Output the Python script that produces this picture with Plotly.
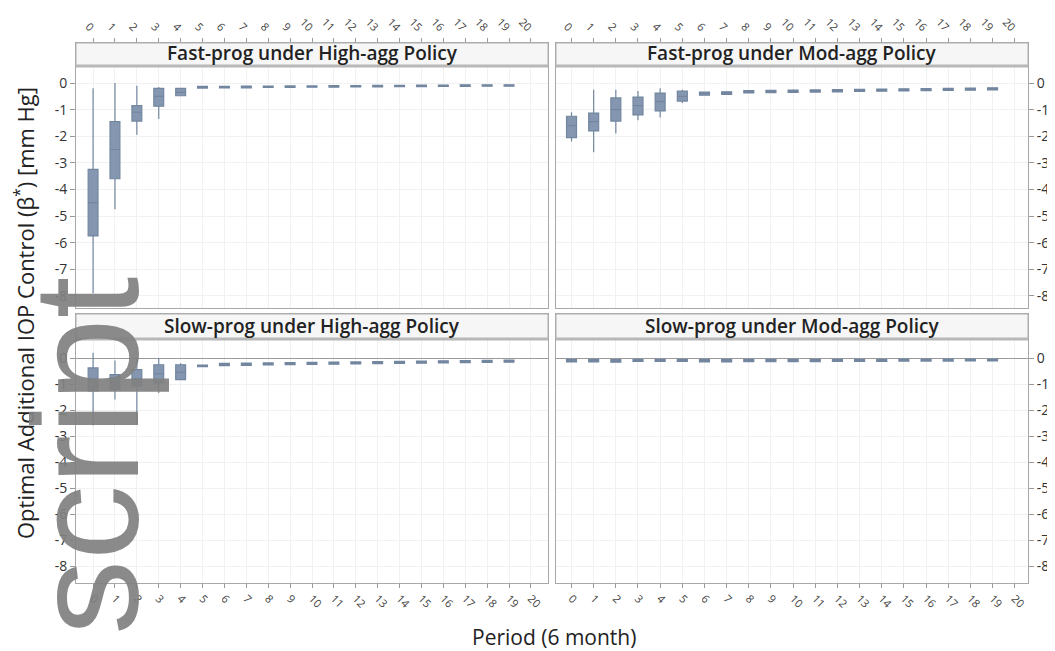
import plotly.graph_objects as go

W, H = 1055, 651
periods = list(range(20))

# Fast-prog under High-agg Policy
fh_lo  = [-7.9, -4.75, -1.95, -1.35, -0.50] + [-0.20, -0.19, -0.19, -0.18, -0.18, -0.17, -0.17, -0.16, -0.16, -0.15, -0.15, -0.14, -0.14, -0.13, -0.13]
fh_q1  = [-5.75, -3.60, -1.43, -0.87, -0.48] + [-0.19, -0.18, -0.18, -0.17, -0.17, -0.16, -0.16, -0.15, -0.15, -0.14, -0.14, -0.13, -0.13, -0.12, -0.12]
fh_med = [-4.5, -2.5, -1.10, -0.50, -0.35] + [-0.16, -0.16, -0.15, -0.15, -0.14, -0.14, -0.13, -0.13, -0.12, -0.12, -0.11, -0.11, -0.10, -0.10, -0.10]
fh_q3  = [-3.25, -1.45, -0.85, -0.20, -0.20] + [-0.13, -0.13, -0.12, -0.12, -0.11, -0.11, -0.10, -0.10, -0.09, -0.09, -0.08, -0.08, -0.07, -0.07, -0.07]
fh_hi  = [-0.2, 0.0, -0.10, -0.15, -0.20] + [-0.12, -0.12, -0.11, -0.11, -0.10, -0.10, -0.09, -0.09, -0.08, -0.08, -0.07, -0.07, -0.06, -0.06, -0.06]

# Fast-prog under Mod-agg Policy
fm_lo  = [-2.20, -2.60, -1.90, -1.40, -1.30, -0.75, -0.47, -0.44, -0.38, -0.37, -0.36, -0.35, -0.34, -0.33, -0.32, -0.31, -0.30, -0.29, -0.28, -0.27]
fm_q1  = [-2.05, -1.80, -1.43, -1.20, -1.05, -0.68, -0.46, -0.43, -0.37, -0.36, -0.35, -0.34, -0.33, -0.32, -0.31, -0.30, -0.29, -0.28, -0.27, -0.26]
fm_med = [-1.60, -1.45, -1.00, -0.85, -0.70, -0.50, -0.40, -0.38, -0.33, -0.32, -0.31, -0.30, -0.29, -0.28, -0.27, -0.26, -0.25, -0.24, -0.23, -0.22]
fm_q3  = [-1.25, -1.13, -0.56, -0.53, -0.38, -0.30, -0.34, -0.33, -0.29, -0.28, -0.27, -0.26, -0.25, -0.24, -0.23, -0.22, -0.21, -0.20, -0.19, -0.18]
fm_hi  = [-1.10, -0.25, -0.25, -0.30, -0.20, -0.25, -0.33, -0.32, -0.28, -0.27, -0.26, -0.25, -0.24, -0.23, -0.22, -0.21, -0.20, -0.19, -0.18, -0.17]

# Slow-prog under High-agg Policy
sh_lo  = [-2.60, -1.60, -2.56, -1.35, -0.85, -0.34, -0.30, -0.29, -0.28, -0.27, -0.26, -0.25, -0.24, -0.23, -0.22, -0.21, -0.20, -0.19, -0.18, -0.17]
sh_q1  = [-1.27, -1.22, -1.08, -0.96, -0.83, -0.33, -0.29, -0.28, -0.27, -0.26, -0.25, -0.24, -0.23, -0.22, -0.21, -0.20, -0.19, -0.18, -0.17, -0.16]
sh_med = [-0.80, -0.95, -0.80, -0.60, -0.55, -0.30, -0.25, -0.24, -0.23, -0.22, -0.21, -0.20, -0.19, -0.18, -0.17, -0.16, -0.15, -0.14, -0.13, -0.12]
sh_q3  = [-0.38, -0.64, -0.45, -0.26, -0.26, -0.27, -0.21, -0.20, -0.19, -0.18, -0.17, -0.16, -0.15, -0.14, -0.13, -0.12, -0.11, -0.10, -0.09, -0.08]
sh_hi  = [0.20, -0.10, 0.00, 0.00, -0.20, -0.26, -0.20, -0.19, -0.18, -0.17, -0.16, -0.15, -0.14, -0.13, -0.12, -0.11, -0.10, -0.09, -0.08, -0.07]

# Slow-prog under Mod-agg Policy
sm_lo  = [-0.16, -0.16, -0.17, -0.14, -0.14, -0.14, -0.16, -0.16, -0.15, -0.15, -0.15, -0.15, -0.14, -0.14, -0.14, -0.13, -0.13, -0.13, -0.12, -0.12]
sm_q1  = [-0.15, -0.15, -0.16, -0.13, -0.13, -0.13, -0.15, -0.15, -0.14, -0.14, -0.14, -0.14, -0.13, -0.13, -0.13, -0.12, -0.12, -0.12, -0.11, -0.11]
sm_med = [-0.10, -0.10, -0.11, -0.09, -0.09, -0.09, -0.10, -0.10, -0.10, -0.10, -0.10, -0.10, -0.09, -0.09, -0.09, -0.08, -0.08, -0.08, -0.08, -0.08]
sm_q3  = [-0.05, -0.05, -0.06, -0.05, -0.05, -0.05, -0.05, -0.05, -0.05, -0.05, -0.05, -0.05, -0.05, -0.05, -0.05, -0.04, -0.04, -0.04, -0.04, -0.04]
sm_hi  = [-0.04, -0.04, -0.05, -0.04, -0.04, -0.04, -0.04, -0.04, -0.04, -0.04, -0.04, -0.04, -0.04, -0.04, -0.04, -0.03, -0.03, -0.03, -0.03, -0.03]

panel_titles = ["Fast-prog under High-agg Policy", "Fast-prog under Mod-agg Policy",
                "Slow-prog under High-agg Policy", "Slow-prog under Mod-agg Policy"]
x_tickvals = list(range(21))
y_tickvals = [0, -1, -2, -3, -4, -5, -6, -7, -8]
y_ticktext = ["0", "-1", "-2", "-3", "-4", "-5", "-6", "-7", "-8"]
y_title = "Optimal Additional IOP Control (β<sup>*</sup>) [mm Hg]"
x_title = "Period (6 month)"
watermark = "script"

BOX_FILL = "#8597b0"
BOX_LINE = "#7386a0"
FONT = "Open Sans"

def px_x(p):
    return p / W

def px_y(p):
    return 1 - p / H

fig = go.Figure()
series = [
    (fh_lo, fh_q1, fh_med, fh_q3, fh_hi),
    (fm_lo, fm_q1, fm_med, fm_q3, fm_hi),
    (sh_lo, sh_q1, sh_med, sh_q3, sh_hi),
    (sm_lo, sm_q1, sm_med, sm_q3, sm_hi),
]
for i, (lo, q1, med, q3, hi) in enumerate(series):
    sfx = "" if i == 0 else str(i + 1)
    fig.add_trace(go.Box(
        x=periods, lowerfence=lo, q1=q1, median=med, q3=q3, upperfence=hi,
        xaxis="x" + sfx, yaxis="y" + sfx, width=0.45, whiskerwidth=0,
        fillcolor=BOX_FILL, line=dict(color=BOX_LINE, width=1.2),
        boxpoints=False, showlegend=False, hoverinfo="skip"))

# panel pixel geometry: (left, right, top, bottom, strip_bottom)
panels = [
    (68, 540, 35, 300, 58),
    (548, 1020, 35, 300, 58),
    (68, 540, 306, 575, 331),
    (548, 1020, 306, 575, 331),
]
xranges = [[-0.78, 20.78], [-0.7, 20.6], [-0.78, 20.78], [-0.7, 20.6]]
yranges = [
    [-(300 - 75) / 26.6, (75 - 35) / 26.6],
    [-(300 - 75) / 26.6, (75 - 35) / 26.6],
    [-(575 - 350) / 26.0, (350 - 306) / 26.0],
    [-(575 - 350) / 26.0, (350 - 306) / 26.0],
]

layout = dict(width=W, height=H, margin=dict(l=0, r=0, t=0, b=0),
              plot_bgcolor="white", paper_bgcolor="white",
              font=dict(family=FONT, color="#222"))
shapes = []
annotations = []
for i, (l, r, t, b, sb) in enumerate(panels):
    sfx = "" if i == 0 else str(i + 1)
    top_row = i < 2
    layout["xaxis" + sfx] = dict(
        domain=[px_x(l), px_x(r)], range=xranges[i], anchor="y" + sfx,
        side="top" if top_row else "bottom",
        tickvals=x_tickvals, tickangle=45, tickfont=dict(size=11, color="#444"),
        ticks="outside", ticklen=4, tickcolor="#999",
        showgrid=True, gridcolor="#f1f1f1", gridwidth=1,
        showline=True, linecolor="#a8a8a8", mirror=True, zeroline=False)
    layout["yaxis" + sfx] = dict(
        domain=[px_y(b), px_y(t)], range=yranges[i], anchor="x" + sfx,
        side="left" if i % 2 == 0 else "right",
        tickvals=y_tickvals, ticktext=y_ticktext, tickfont=dict(size=14, color="#333"),
        ticks="outside", ticklen=5, tickcolor="#999",
        showgrid=True, gridcolor="#f1f1f1", gridwidth=1,
        showline=True, linecolor="#a8a8a8", mirror=True,
        zeroline=not top_row, zerolinecolor="#9a9a9a", zerolinewidth=1)
    shapes.append(dict(type="rect", xref="paper", yref="paper",
                       x0=px_x(l), x1=px_x(r), y0=px_y(sb), y1=px_y(t),
                       fillcolor="#f6f6f6", line=dict(color="#b0b0b0", width=1), layer="above"))
    shapes.append(dict(type="line", xref="paper", yref="paper",
                       x0=px_x(l), x1=px_x(r), y0=px_y(sb), y1=px_y(sb),
                       line=dict(color="#b8b8b8", width=3), layer="above"))
    annotations.append(dict(text=panel_titles[i], xref="paper", yref="paper",
                            x=px_x((l + r) / 2), y=px_y((t + sb) / 2 - 1), showarrow=False,
                            xanchor="center", yanchor="middle",
                            font=dict(size=19, color="#222", family=FONT, weight=600)))

annotations.append(dict(text=y_title, xref="paper", yref="paper", x=px_x(17), y=px_y(305),
                        textangle=-90, showarrow=False, xanchor="center", yanchor="middle",
                        font=dict(size=22, color="#222", family=FONT)))
annotations.append(dict(text=x_title, xref="paper", yref="paper", x=px_x(546), y=px_y(629),
                        showarrow=False, xanchor="center", yanchor="middle",
                        font=dict(size=21, color="#222", family=FONT)))
annotations.append(dict(text=watermark, xref="paper", yref="paper", x=px_x(78), y=px_y(448),
                        textangle=-90, showarrow=False, xanchor="center", yanchor="middle",
                        font=dict(size=150, color="rgba(128,128,128,0.92)", family="Liberation Sans")))

layout["shapes"] = shapes
layout["annotations"] = annotations
fig.update_layout(**layout)
fig.write_html("out.html")
